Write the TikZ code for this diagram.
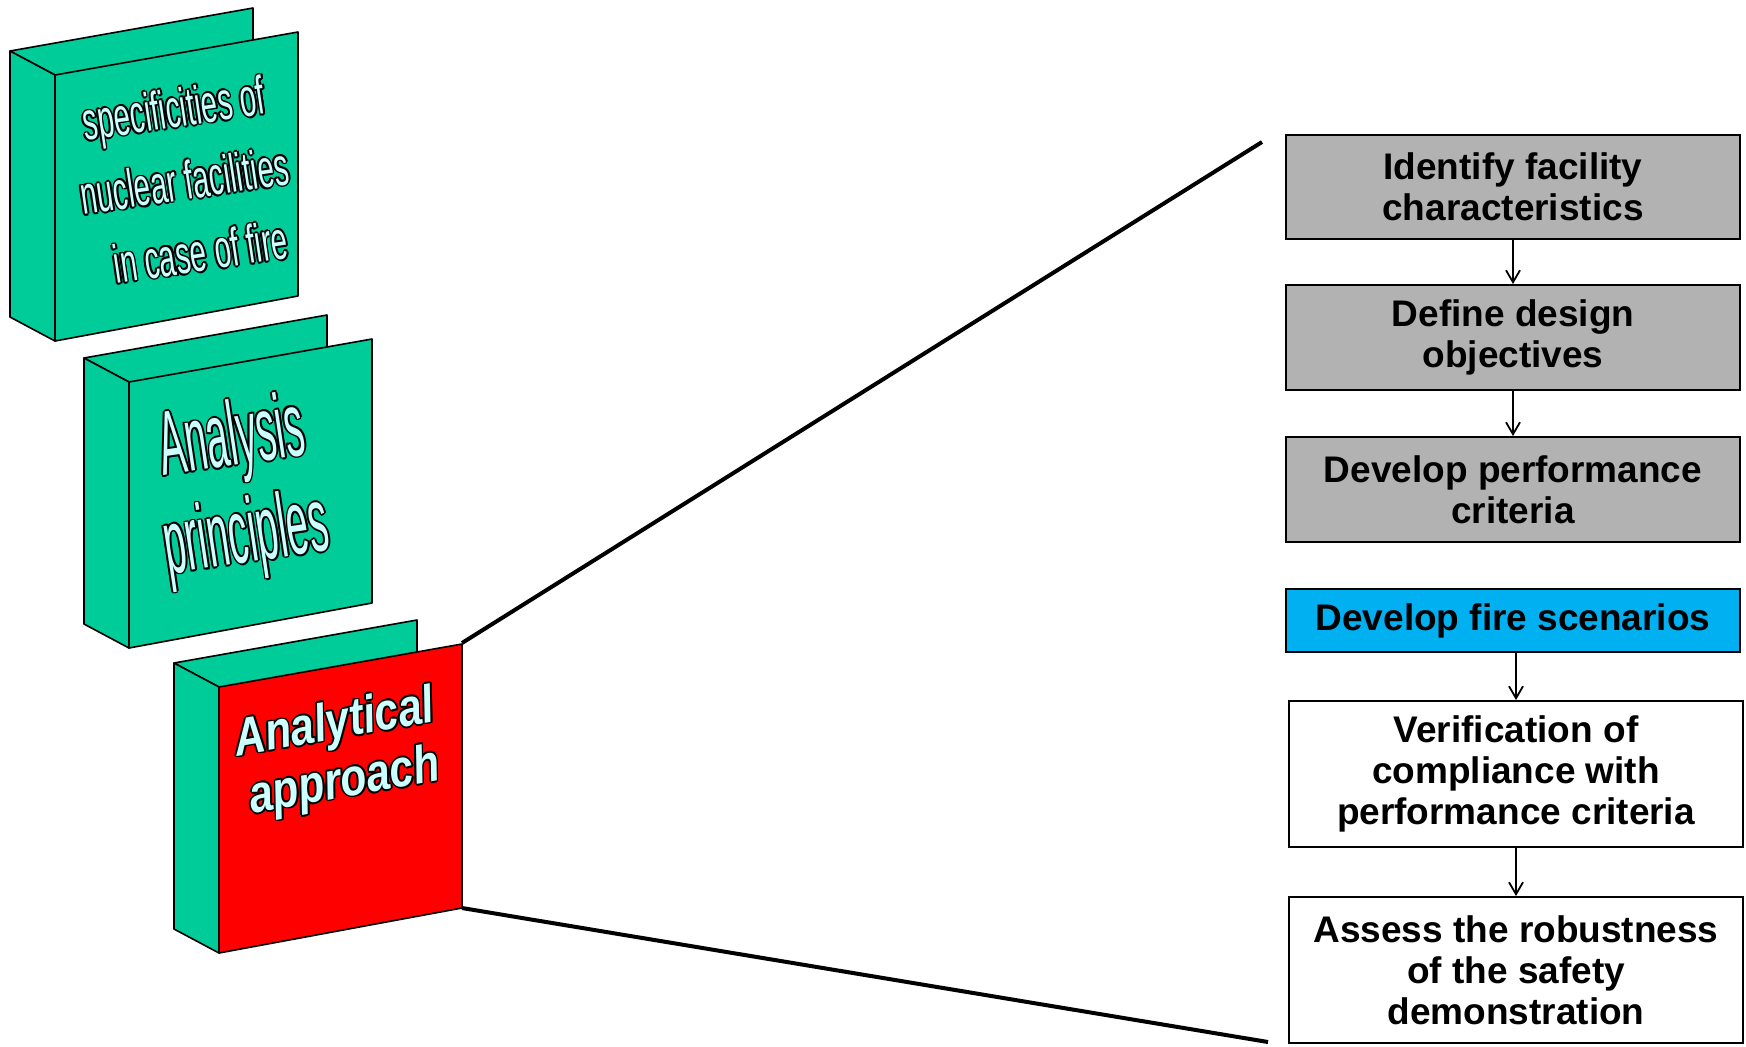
\documentclass[tikz,border=0pt]{standalone}
\usepackage{fontspec}
\setmainfont{Liberation Sans}
\usepackage{graphicx}
\usetikzlibrary{arrows.meta}
\definecolor{boxgreen}{HTML}{00CC99}
\definecolor{boxred}{HTML}{FF0000}
\definecolor{txtc}{HTML}{CCFFFF}
\definecolor{stepgray}{HTML}{B2B2B2}
\definecolor{stepblue}{HTML}{00B0F0}
\newlength\olw
\setlength\olw{0.9pt}
\newcommand\outl[1]{{%
  \setbox0=\hbox{\color{black}#1}%
  \setbox2=\hbox{\color{txtc}#1}%
  \dimen0=\olw \dimen2=0.7071\olw
  \rlap{\kern\dimen0\copy0}\rlap{\kern-\dimen0\copy0}%
  \rlap{\raise\dimen0\copy0}\rlap{\lower\dimen0\copy0}%
  \rlap{\kern\dimen2\raise\dimen2\copy0}\rlap{\kern\dimen2\lower\dimen2\copy0}%
  \rlap{\kern-\dimen2\raise\dimen2\copy0}\rlap{\kern-\dimen2\lower\dimen2\copy0}%
  \box2}}
\newcommand\bookbox[3]{%
  \filldraw[boxline, fill=boxgreen] ({#1-45},{#2-24}) -- ({#1+198},{#2-67}) -- ({#1+198},{#2}) -- (#1,#2) -- cycle;
  \filldraw[boxline, fill=boxgreen] ({#1-45},{#2-24}) -- (#1,#2) -- (#1,{#2+266}) -- ({#1-45},{#2+242}) -- cycle;
  \filldraw[boxline, fill=#3] (#1,#2) -- ({#1+243},{#2-43}) -- ({#1+243},{#2+221}) -- (#1,{#2+266}) -- cycle;
}
\begin{document}
\begin{tikzpicture}[x=0.5pt,y=-0.5pt,
  boxline/.style={draw=black,line width=0.8pt,line join=round},
  stepbox/.style={draw=black,line width=1pt,minimum width=227pt,inner sep=0pt,align=center,
    font=\fontsize{18.5}{20.5}\selectfont\bfseries},
  flow/.style={-{Straight Barb[length=6pt,width=7pt]},line width=0.9pt},
  zoomline/.style={line width=2pt},
  booktext/.style={inner sep=0pt}]
\useasboundingbox (0,0) rectangle (1746,1046);
% 3D books
\bookbox{55}{75}{boxgreen}
\bookbox{129}{382}{boxgreen}
\bookbox{219}{687}{boxred}
\node[booktext,rotate=8.5] (t1) at (185,185) {\outl{\scalebox{0.546}[1]{\fontsize{27}{36.5}\selectfont\begin{tabular}{@{}c@{}}specificities of\\nuclear facilities\\\hspace{10pt}in case of fire\end{tabular}}}};
\node[booktext,rotate=8.5] (t2) at (240,494) {\outl{\scalebox{0.43}[1]{\fontsize{45.5}{49}\selectfont\begin{tabular}{@{}c@{}}Analysis\\principles\end{tabular}}}};
\node[booktext,rotate=10] (t3) at (340,756) {\outl{\scalebox{0.97}[1.2]{\fontsize{22}{24.5}\selectfont\bfseries\itshape\begin{tabular}{@{}c@{}}Analytical\\approach\end{tabular}}}};
% zoom lines
\coordinate (b3tr) at (462,643);
\coordinate (b3br) at (462,908);
\coordinate (topend) at (1262,142);
\coordinate (botend) at (1268,1042);
\draw[zoomline] (b3tr) -- (topend);
\draw[zoomline] (b3br) -- (botend);
% steps
\node[stepbox,fill=stepgray,minimum height=52pt] (s1) at (1513,187) {Identify facility\\characteristics};
\node[stepbox,fill=stepgray,minimum height=52.5pt] (s2) at (1513,337.5) {Define design\\objectives};
\node[stepbox,fill=stepgray,minimum height=52.5pt] (s3) at (1513,489.5) {Develop performance\\criteria};
\node[stepbox,fill=stepblue,minimum height=31.5pt] (s4) at (1513,620.5) {Develop fire scenarios};
\node[stepbox,fill=white,minimum height=73pt] (s5) at (1516,774) {Verification of\\compliance with\\performance criteria};
\node[stepbox,fill=white,minimum height=73pt] (s6) at (1516,970) {Assess the robustness\\of the safety\\demonstration};
\draw[flow] (s1) -- (s2);
\draw[flow] (s2) -- (s3);
\draw[flow] (s4.south -| s5.north) -- (s5.north);
\draw[flow] (s5) -- (s6);
\end{tikzpicture}
\end{document}
